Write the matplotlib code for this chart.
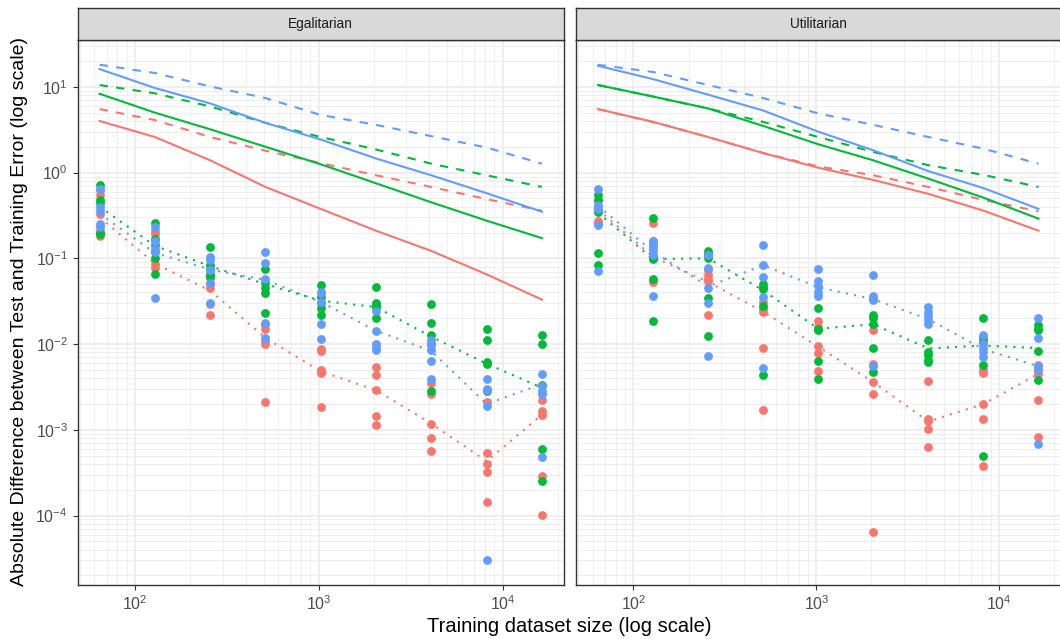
import numpy as np
import matplotlib.pyplot as plt
from matplotlib.ticker import LogLocator, NullFormatter, LogFormatterSciNotation

plt.rcParams["font.family"] = ["Liberation Sans", "DejaVu Sans"]

sizes = [64, 128, 256, 512, 1024, 2048, 4096, 8192, 16384]
panels = ["Egalitarian", "Utilitarian"]
palette = {"red": "#F8766D", "green": "#00BA38", "blue": "#619CFF"}
x_breaks = [1e2, 1e3, 1e4]
y_breaks = [1e-4, 1e-3, 1e-2, 1e-1, 1e0, 1e1]

# courbes pleines (bornes), par panneau puis par groupe
egal_solid = {
    "red": [4.0, 2.6, 1.39, 0.68, 0.377, 0.21, 0.122, 0.065, 0.033],
    "green": [8.3, 5.0, 3.2, 2.0, 1.25, 0.75, 0.45, 0.275, 0.172],
    "blue": [16.1, 9.7, 6.4, 3.8, 2.43, 1.46, 0.93, 0.575, 0.35],
}
egal_dashed = {
    "red": [5.5, 4.1, 2.6, 1.8, 1.29, 0.93, 0.68, 0.49, 0.36],
    "green": [10.5, 8.4, 5.9, 3.8, 2.6, 1.86, 1.27, 0.93, 0.68],
    "blue": [18.1, 14.5, 10.1, 7.4, 4.7, 3.6, 2.66, 1.96, 1.27],
}
util_solid = {
    "red": [5.5, 3.9, 2.6, 1.69, 1.14, 0.82, 0.565, 0.36, 0.21],
    "green": [10.5, 7.7, 5.6, 3.5, 2.14, 1.39, 0.85, 0.51, 0.29],
    "blue": [17.6, 12.3, 8.1, 5.3, 3.0, 1.82, 1.04, 0.66, 0.377],
}
util_dashed = {
    "red": [5.5, 3.9, 2.6, 1.69, 1.18, 0.93, 0.68, 0.48, 0.353],
    "green": [10.5, 7.7, 5.6, 3.9, 2.6, 1.74, 1.22, 0.94, 0.68],
    "blue": [18.1, 14.9, 10.5, 7.4, 4.9, 3.6, 2.6, 1.9, 1.27],
}

# courbes pointillees (tendance des points observes)
egal_dotted = {
    "red": [0.30, 0.087, 0.042, 0.0118, 0.0048, 0.0029, 0.00118, 0.00043, 0.0015],
    "green": [0.40, 0.14, 0.081, 0.050, 0.032, 0.027, 0.0122, 0.0059, 0.0031],
    "blue": [0.33, 0.116, 0.074, 0.056, 0.031, 0.0143, 0.0083, 0.0020, 0.0034],
}
util_dotted = {
    "red": [0.37, 0.104, 0.053, 0.0238, 0.0093, 0.0036, 0.00125, 0.0020, 0.0045],
    "green": [0.34, 0.098, 0.10, 0.0422, 0.0151, 0.0170, 0.0089, 0.0096, 0.0090],
    "blue": [0.41, 0.119, 0.047, 0.083, 0.046, 0.0334, 0.0195, 0.0087, 0.0055],
}

# points observes: une liste de repetitions par taille
egal_points = {
    "red": [[0.62, 0.55, 0.33, 0.21, 0.18], [0.21, 0.19, 0.12, 0.085, 0.077],
            [0.060, 0.050, 0.045, 0.029, 0.022], [0.0165, 0.0150, 0.0110, 0.0099, 0.0021],
            [0.0088, 0.0082, 0.0050, 0.0046, 0.00185], [0.0054, 0.0043, 0.0029, 0.00145, 0.00113],
            [0.0035, 0.0026, 0.00118, 0.0008, 0.00057], [0.0021, 0.00054, 0.000395, 0.00032, 0.000144],
            [0.0022, 0.00166, 0.00148, 0.00029, 0.000102]],
    "green": [[0.71, 0.48, 0.44, 0.20, 0.19], [0.26, 0.17, 0.142, 0.10, 0.066],
              [0.134, 0.083, 0.075, 0.061, 0.066], [0.076, 0.051, 0.045, 0.039, 0.0233],
              [0.049, 0.030, 0.026, 0.0217, 0.035], [0.046, 0.030, 0.027, 0.0199, 0.028],
              [0.0297, 0.0176, 0.0127, 0.0100, 0.0028], [0.0149, 0.0113, 0.0062, 0.0058, 0.0028],
              [0.0129, 0.0101, 0.0033, 0.00059, 0.000255]],
    "blue": [[0.64, 0.40, 0.36, 0.25, 0.23], [0.23, 0.16, 0.13, 0.119, 0.034],
             [0.104, 0.095, 0.073, 0.051, 0.030], [0.119, 0.089, 0.058, 0.0176, 0.0119],
             [0.041, 0.039, 0.031, 0.0173, 0.0115], [0.0245, 0.0142, 0.0100, 0.0093, 0.0086],
             [0.0111, 0.0098, 0.0086, 0.0064, 0.0039], [0.0039, 0.0030, 0.0029, 0.0019, 3.05e-5],
             [0.0045, 0.0032, 0.0028, 0.0026, 0.00048]],
}
util_points = {
    "red": [[0.48, 0.40, 0.36, 0.27, 0.26], [0.26, 0.16, 0.14, 0.104, 0.0526],
            [0.073, 0.064, 0.058, 0.055, 0.0217], [0.031, 0.0258, 0.0238, 0.0089, 0.0017],
            [0.0186, 0.0157, 0.0094, 0.0079, 0.0049], [0.0145, 0.0059, 0.0036, 0.0026, 6.5e-5],
            [0.0037, 0.00135, 0.00125, 0.00102, 0.00063], [0.0050, 0.0046, 0.0020, 0.00135, 0.000375],
            [0.0057, 0.0050, 0.0045, 0.0022, 0.00082]],
    "green": [[0.55, 0.48, 0.35, 0.114, 0.083], [0.296, 0.10, 0.097, 0.057, 0.0185],
              [0.121, 0.111, 0.101, 0.034, 0.0124], [0.050, 0.046, 0.0435, 0.028, 0.0043],
              [0.0264, 0.0150, 0.0144, 0.0063, 0.0039], [0.0217, 0.0200, 0.0173, 0.0091, 0.0047],
              [0.0111, 0.0081, 0.0075, 0.0066, 0.0061], [0.0204, 0.0118, 0.0105, 0.0057, 0.00049],
              [0.0166, 0.0150, 0.0146, 0.0083, 0.0038]],
    "blue": [[0.64, 0.42, 0.38, 0.245, 0.072], [0.158, 0.142, 0.125, 0.110, 0.0368],
             [0.110, 0.078, 0.045, 0.030, 0.0072], [0.142, 0.0835, 0.060, 0.035, 0.0053],
             [0.076, 0.055, 0.047, 0.041, 0.036], [0.0636, 0.036, 0.034, 0.0325, 0.0056],
             [0.0267, 0.0238, 0.0213, 0.0191, 0.0171], [0.0127, 0.0101, 0.0090, 0.0081, 0.0071],
             [0.0204, 0.0118, 0.0055, 0.0050, 0.00068]],
}

W, H = 1060, 639


def box(x0, y0, x1, y1):
    """Rectangle en pixels (origine en haut a gauche) -> coordonnees de figure."""
    return [x0 / W, 1 - y1 / H, (x1 - x0) / W, (y1 - y0) / H]


def expanded(lo, hi, frac=0.05):
    a, b = np.log10(lo), np.log10(hi)
    pad = (b - a) * frac
    return 10 ** (a - pad), 10 ** (b + pad)


all_y = [v for d in (egal_points, util_points) for rows in d.values() for r in rows for v in r]
all_y += [v for d in (egal_solid, egal_dashed, util_solid, util_dashed) for s in d.values() for v in s]
xlim = expanded(min(sizes), max(sizes))
ylim = expanded(min(all_y), max(all_y))

fig = plt.figure(figsize=(10.6, 6.39), dpi=100)
frames = [(77.5, 564), (576, 1060.5)]
datasets = [(egal_solid, egal_dashed, egal_dotted, egal_points),
            (util_solid, util_dashed, util_dotted, util_points)]

for i, ((x0, x1), name, (solid, dashed, dotted, points)) in enumerate(zip(frames, panels, datasets)):
    ax = fig.add_axes(box(x0, 40, x1, 584.5))
    ax.set_xscale("log"); ax.set_yscale("log")
    for key, color in palette.items():
        ax.plot(sizes, solid[key], color=color, lw=1.5, zorder=2)
        ax.plot(sizes, dashed[key], color=color, lw=1.5, ls=(0, (4, 4)), zorder=2)
        ax.plot(sizes, dotted[key], color=color, lw=1.5, ls=(0, (1, 3)), zorder=2)
    for key, color in palette.items():
        xs = [s for s, row in zip(sizes, points[key]) for _ in row]
        ys = [v for row in points[key] for v in row]
        ax.scatter(xs, ys, s=40, color=color, linewidths=0, zorder=3)

    ax.set_xticks(x_breaks); ax.set_yticks(y_breaks)
    for axis in (ax.xaxis, ax.yaxis):
        axis.set_major_formatter(LogFormatterSciNotation())
        axis.set_minor_locator(LogLocator(base=10, subs=np.arange(2, 10), numticks=20))
        axis.set_minor_formatter(NullFormatter())
    ax.set_xlim(*xlim); ax.set_ylim(*ylim)
    ax.grid(which="major", color="#EBEBEB", lw=1.1)
    ax.grid(which="minor", color="#EBEBEB", lw=0.55)
    ax.set_axisbelow(True)
    ax.tick_params(which="minor", length=0)
    ax.tick_params(which="major", length=3.5, width=0.8, color="#333333",
                   labelcolor="#4D4D4D", labelsize=11.5)
    if i > 0:
        ax.tick_params(axis="y", left=False, labelleft=False)
    for sp in ax.spines.values():
        sp.set_color("#333333"); sp.set_linewidth(1.0)

    strip = fig.add_axes(box(x0, 8, x1, 40))
    strip.set_facecolor("#D9D9D9")
    strip.set_xticks([]); strip.set_yticks([])
    for sp in strip.spines.values():
        sp.set_color("#333333"); sp.set_linewidth(1.0)
    strip.text(0.5, 0.5, name, ha="center", va="center", fontsize=9.8, color="#1A1A1A",
               transform=strip.transAxes)

fig.text((77.5 + 1060.5) / 2 / W, 1 - 627 / H, "Training dataset size (log scale)",
         ha="center", va="center", fontsize=14.5, color="black")
fig.text(20 / W, 1 - 312 / H, "Absolute Difference between Test and Training Error (log scale)",
         ha="center", va="center", rotation=90, fontsize=14, color="black")

fig.savefig("out.png", dpi=100)
